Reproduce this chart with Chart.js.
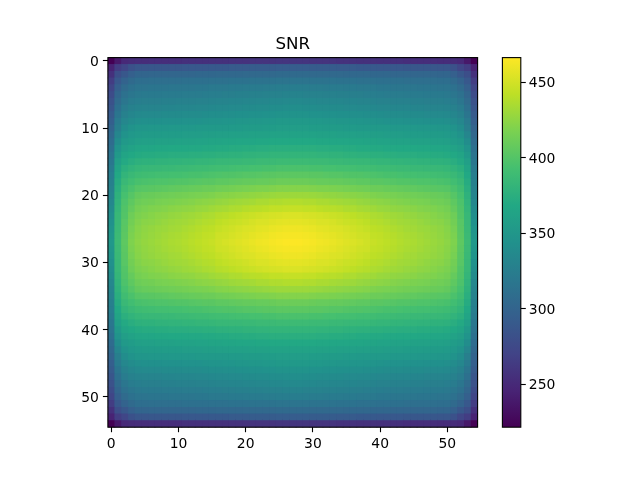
<!DOCTYPE html>
<html><head><meta charset="utf-8">
<style>html,body{margin:0;padding:0;background:#fff}canvas{position:absolute;left:0;top:0}</style>
<script src="https://cdn.jsdelivr.net/npm/chart.js@4"></script>
</head><body>
<canvas id="main" width="640" height="480"></canvas>
<canvas id="bar" width="640" height="480"></canvas>
<script>
// SNR. The picture is mirror-symmetric, so rows 0-27 and columns 0-27 are listed.
const snrRows = [
[221,238,250,252,253,253,254,254,254,254,254,255,255,255,255,256,256,256,257,257,257,258,258,258,258,259,259,259],
[245,265,272,282,287,287,288,288,288,288,288,289,289,289,289,290,290,290,291,291,291,292,292,292,292,293,293,293],
[255,280,288,296,301,301,302,302,302,302,302,302,302,303,303,303,304,304,304,304,305,305,305,305,305,306,306,306],
[265,289,299,306,310,310,311,311,311,311,311,312,312,312,312,313,313,313,314,314,314,315,315,315,315,316,316,316],
[272,296,307,313,316,316,317,317,317,318,318,318,318,319,319,320,320,320,321,321,322,322,322,323,323,324,324,324],
[278,302,313,318,320,321,321,321,322,322,322,323,323,323,324,325,325,326,326,327,327,328,328,329,329,329,330,330],
[283,307,318,323,325,326,326,326,327,327,328,328,328,329,329,330,331,331,332,332,333,333,334,334,335,335,336,336],
[287,312,323,328,330,331,331,331,332,332,333,333,333,334,334,335,336,336,337,337,338,338,339,339,340,340,341,341],
[291,317,328,333,336,337,337,337,338,338,338,339,339,339,340,341,341,342,342,343,343,344,344,345,345,346,346,346],
[295,322,334,339,342,343,343,343,344,344,344,345,345,345,346,347,347,348,348,349,349,350,350,351,351,352,352,352],
[300,326,340,346,349,349,350,350,350,351,351,351,351,352,352,353,353,353,354,354,355,355,355,356,356,357,357,357],
[304,333,346,351,354,355,355,355,356,356,356,357,357,357,358,358,359,359,360,360,360,361,361,361,362,362,362,362],
[308,340,352,356,359,360,360,361,361,361,362,362,362,363,363,364,364,365,365,366,366,366,367,367,368,368,368,368],
[312,347,358,362,365,366,366,367,367,368,368,368,369,369,370,370,371,371,372,372,373,373,374,374,375,375,375,375],
[316,353,364,368,371,372,372,373,373,374,374,374,375,375,376,376,377,377,378,378,379,379,380,380,381,381,381,381],
[319,359,370,374,377,378,378,379,379,380,380,381,381,382,382,383,384,384,385,385,386,386,387,387,387,388,388,388],
[322,364,376,380,383,384,385,385,386,386,387,387,388,389,389,390,391,391,392,393,393,394,394,395,395,396,396,396],
[325,368,381,386,389,390,391,392,392,393,393,394,395,395,396,397,398,399,399,400,401,401,402,403,403,404,404,404],
[327,372,386,391,395,396,397,398,398,399,400,400,401,402,403,403,405,405,406,407,408,408,409,409,410,411,411,411],
[329,375,390,396,401,402,403,404,405,406,407,408,409,410,411,411,413,414,415,416,417,418,419,419,420,421,421,421],
[331,378,394,401,407,409,410,411,412,413,414,415,416,417,418,419,421,422,423,424,425,426,427,428,429,430,430,430],
[334,380,397,405,411,413,414,416,417,418,419,420,421,423,424,425,427,428,430,431,432,433,435,435,437,437,438,438],
[338,382,399,408,415,417,419,420,421,423,424,425,426,428,429,431,433,434,436,437,439,440,441,442,444,444,445,445],
[341,384,400,412,418,420,422,424,425,427,428,430,431,433,435,436,439,440,442,444,446,447,449,450,451,452,453,453],
[344,385,402,414,420,423,424,426,428,430,431,432,434,436,438,439,442,444,446,447,449,451,453,453,455,456,457,457],
[347,386,403,416,422,425,427,429,430,432,433,435,437,439,441,442,445,447,449,451,453,454,456,457,459,460,461,461],
[349,387,404,418,423,426,428,430,432,434,435,437,439,441,443,444,448,449,451,453,455,457,459,460,462,463,464,464],
[351,388,405,419,424,427,429,431,433,435,436,438,440,442,444,446,449,451,453,455,457,459,461,462,464,465,466,466]
];
const axisTicks = [0,10,20,30,40,50];
const barTicks = [250,300,350,400,450];
const snrMin = 221.5, snrMax = 466.5;
const titleText = 'SNR';
const viridis = [[68,1,84],[72,36,117],[65,68,135],[53,95,141],[42,120,142],[33,145,140],[34,168,132],[68,191,112],[122,209,81],[189,223,38],[253,231,37]];

function color(v){
  const t = Math.max(0,Math.min(1,(v-snrMin)/(snrMax-snrMin)))*(viridis.length-1);
  const i = Math.min(viridis.length-2,Math.floor(t)), f = t-i;
  const c = viridis[i].map((a,k)=>Math.round(a+(viridis[i+1][k]-a)*f));
  return `rgb(${c[0]},${c[1]},${c[2]})`;
}
const cells = [];
const last = 54;
for(let y=0;y<=last;y++){
  const row = snrRows[y<=27?y:last-y];
  for(let x=0;x<=last;x++){
    cells.push({x,y,v:row[x<=27?x:last-x]});
  }
}
const FONT = 'DejaVu Sans';
const frame = {id:'frame',
  beforeDraw(c){
    const s=c.scales.y;
    s.getLabelItems().forEach(it=>{it.options.translation[1]+=1.3;});
  },
  afterDraw(c){
    const a=c.chartArea,g=c.ctx;g.save();g.strokeStyle='#000';g.lineWidth=1.1;
    g.strokeRect(a.left,a.top,a.right-a.left,a.bottom-a.top);g.restore();}};
const axisCommon = {
  border:{display:false},
  grid:{drawOnChartArea:false,drawTicks:true,tickLength:5,tickColor:'#000',tickWidth:1.1},
};
const tickFont = {color:'#000',font:{family:FONT,size:13.9},padding:4,maxRotation:0,autoSkip:false};

const cellColor = ctx=>color(ctx.raw.v);
new Chart(document.getElementById('main'),{
  type:'scatter',
  data:{datasets:[
    {data:cells,pointStyle:'rect',pointRadius:4.75,pointBorderWidth:0,borderWidth:0,backgroundColor:cellColor},
    {data:cells,pointStyle:'rect',pointRadius:6,pointBorderWidth:0,borderWidth:0,backgroundColor:cellColor}
  ]},
  options:{responsive:false,animation:false,devicePixelRatio:1,
    layout:{padding:{left:0,right:54.4,top:0,bottom:0}},
    plugins:{legend:{display:false},tooltip:{enabled:false},
      title:{display:true,text:titleText,color:'#000',font:{family:FONT,size:16.67,weight:'normal',lineHeight:1.2},padding:{top:35,bottom:2.6}}},
    scales:{
      x:{type:'linear',min:-0.5,max:54.5,...axisCommon,ticks:tickFont,
        afterBuildTicks:s=>{s.ticks=axisTicks.map(value=>({value}))},afterFit:s=>{s.height=52.8}},
      y:{type:'linear',min:-0.5,max:54.5,reverse:true,...axisCommon,ticks:tickFont,
        afterBuildTicks:s=>{s.ticks=axisTicks.map(value=>({value}))},afterFit:s=>{s.width=107.9}},
      gutter:{type:'linear',position:'right',grid:{display:false},border:{display:false},ticks:{display:false},
        afterFit:s=>{s.width=108}}
    }},
  plugins:[frame]
});

new Chart(document.getElementById('bar'),{
  type:'bar',
  data:{labels:[titleText],datasets:[{data:[[snrMin,snrMax]],barPercentage:1,categoryPercentage:1,borderWidth:0,
    backgroundColor:ctx=>{
      const a=ctx.chart.chartArea; if(!a) return '#000';
      const g=ctx.chart.ctx.createLinearGradient(0,a.bottom,0,a.top);
      viridis.forEach((c,i)=>g.addColorStop(i/(viridis.length-1),`rgb(${c[0]},${c[1]},${c[2]})`));
      return g;}}]},
  options:{responsive:false,animation:false,devicePixelRatio:1,
    layout:{padding:{left:502.4,right:0,top:57.6,bottom:52.8}},
    plugins:{legend:{display:false},tooltip:{enabled:false},title:{display:false}},
    scales:{
      x:{display:false},
      y:{type:'linear',position:'right',min:snrMin,max:snrMax,...axisCommon,ticks:{...tickFont,padding:3},
        afterBuildTicks:s=>{s.ticks=barTicks.map(value=>({value}))},afterFit:s=>{s.width=119.2}}
    }},
  plugins:[frame]
});
</script>
</body></html>
